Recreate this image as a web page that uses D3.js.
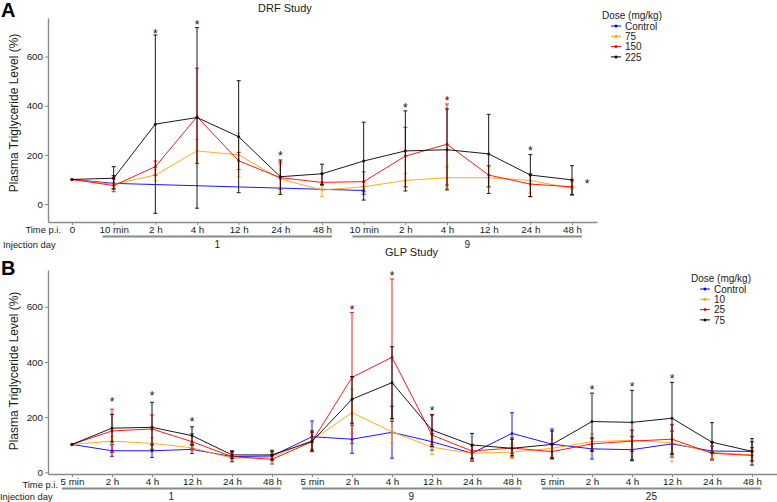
<!DOCTYPE html>
<html><head><meta charset="utf-8">
<script src="https://cdn.jsdelivr.net/npm/d3@7/dist/d3.min.js"></script>
<style>
html,body{margin:0;padding:0;background:#fff;}
svg{display:block;font-family:"Liberation Sans",Arial,sans-serif;}
</style></head>
<body><svg id="chart" width="777" height="502"></svg>
<script>
// ---------- Panel A (DRF Study) ----------
const timeLabelsA = ["0","10 min","2 h","4 h","12 h","24 h","48 h","10 min","2 h","4 h","12 h","24 h","48 h"];
const dayGroupsA = [{label:"1", from:1, to:6},{label:"9", from:7, to:12}];
const seriesNamesA = ["Control","75","150","225"];
const controlA    = [100, 84, null, null, null, null, null, 55, null, null, null, null, null];
const controlA_lo = [100, 60, null, null, null, null, null, 40, null, null, null, null, null];
const controlA_hi = [100,116, null, null, null, null, null, 72, null, null, null, null, null];
const dose75A     = [100, 80, 118, 216, 200, 102, 57, 70, 96, 107, 107, 96, 64];
const dose75A_lo  = [100, 58,  95, 166, 110,  48, 30, 50, 70,  64,  70, 44, 40];
const dose75A_hi  = [100,100, 140, 263, 288, 162, 80, 90,125, 152, 152,125, 90];
const dose150A    = [100, 75, 152, 355, 176, 107, 88, 91,195, 243, 118, 81, 70];
const dose150A_lo = [100, 50, 118, 165, 140,  60, 75, 50, 70,  77,  70, 30, 37];
const dose150A_hi = [100,110, 175, 553, 210, 170,125,131,312, 407, 156,122, 98];
const dose225A    = [100,105, 325, 352, 274, 111,123,175,216, 221, 204,118, 98];
const dose225A_lo = [100, 62, -38, -17,  46,  39, 80, 16, 53,  57,  43, 30, 37];
const dose225A_hi = [100,152, 688, 718, 502, 179,162,333,379, 387, 365,201,156];
const starIndexA  = [2, 3, 5, 8, 9, 11, 12.36];
const starValueA  = [702, 740, 204, 400, 430, 225, 90];
const yTicksA = [0, 200, 400, 600];

// ---------- Panel B (GLP Study) ----------
const timeLabelsB = ["5 min","2 h","4 h","12 h","24 h","48 h","5 min","2 h","4 h","12 h","24 h","48 h","5 min","2 h","4 h","12 h","24 h","48 h"];
const dayGroupsB = [{label:"1", from:0, to:5},{label:"9", from:6, to:11},{label:"25", from:12, to:17}];
const seriesNamesB = ["Control","10","25","75"];
const controlB    = [101, 78, 78, 83, 57, 59, 129,120,145,111, 69,141, 102, 85, 82,103, 77, 76];
const controlB_lo = [101, 58, 54, 68, 38, 45,  75, 69, 51, 80, 40, 69,  48, 48, 45, 55, 45, 41];
const controlB_hi = [101,100,100, 97, 75, 75, 186,171,240,140,100,216, 157,122,130,150,110,111];
const dose10B     = [101,113,105, 89, 51, 54, 117,216,147, 91, 69, 73,  87,111,116,107, 72, 63];
const dose10B_lo  = [101, 95, 85, 75, 38, 40,  85,141,107, 65, 45, 50,  55, 80, 75, 38, 50, 45];
const dose10B_hi  = [101,130,125,105, 65, 70, 140,302,190,120, 95,100, 120,141,153,170, 95, 85];
const dose25B     = [101,150,157,111, 57, 47, 111,344,417,135, 77, 88,  75,103,113,120, 69, 61];
const dose25B_lo  = [101, 72, 99, 85, 40, 30,  75,105,184,100, 45, 55,  50, 77, 75, 69, 45, 40];
const dose25B_hi  = [101,229,208,140, 72, 65, 145,579,701,210,100,125, 105,125,153,174, 95, 90];
const dose75B     = [101,160,163,133, 63, 63, 112,265,325,153, 99, 87, 101,184,181,196,109, 76];
const dose75B_lo  = [101,110, 81,100, 50, 45,  80,178,195, 93, 51, 60,  52, 77, 42, 64, 71, 26];
const dose75B_hi  = [101,210,254,165, 78, 80, 150,347,455,208,141,120, 150,287,297,326,180,122];
const starIndexB  = [1, 2, 3, 7, 8, 9, 13, 14, 15];
const starValueB  = [265, 287, 193, 597, 721, 230, 306, 319, 349];
const yTicksB = [0, 200, 400, 600];

const seriesColors = ["#0000FF", "#FFA500", "#FF0000", "#000000"];

// ---------- drawing ----------
const svg = d3.select("#chart");
const FONT = '"Liberation Sans", Arial, sans-serif';

function drawPanel(cfg) {
  const g = svg.append("g");
  const x = d3.scaleLinear().domain(cfg.xDomain).range([cfg.left, cfg.right]);
  const y = d3.scaleLinear().domain(cfg.yDomain).range([cfg.bottom, cfg.top]);

  // axes
  const yAxis = d3.axisLeft(y).tickValues(cfg.yTicks).tickSize(3).tickSizeOuter(0).tickPadding(2);
  const ya = g.append("g").attr("transform", `translate(${cfg.left},0)`).call(yAxis);
  const xAxis = d3.axisBottom(x).tickValues(d3.range(cfg.labels.length))
      .tickFormat(i => cfg.labels[i]).tickSize(3).tickSizeOuter(0).tickPadding(1);
  const xa = g.append("g").attr("transform", `translate(0,${cfg.bottom})`).call(xAxis);
  [ya, xa].forEach(a => {
    a.select(".domain").attr("stroke", "#8a8a8a").attr("stroke-width", 1.4);
    a.selectAll(".tick line").attr("stroke", "#8a8a8a").attr("stroke-width", 1);
    a.selectAll(".tick text").attr("fill", "#1a1a1a").style("font-size", "9.8px").style("font-family", FONT);
  });

  // y label
  g.append("text")
    .attr("transform", `translate(${cfg.yLabelX},${cfg.yLabelY}) rotate(-90)`)
    .attr("text-anchor", "middle").style("font-size", "12px").attr("fill", "#1a1a1a")
    .text("Plasma Triglyceride Level (%)");

  // series
  cfg.series.forEach((s, k) => {
    const col = seriesColors[k];
    const pts = s.mean.map((v, i) => ({i, v, lo: s.lo[i], hi: s.hi[i]})).filter(d => d.v != null);
    const sg = g.append("g").attr("opacity", 0.9);
    sg.append("path").datum(pts)
      .attr("fill", "none").attr("stroke", col).attr("stroke-width", 1)
      .attr("d", d3.line().x(d => x(d.i)).y(d => y(d.v)));
    const eb = sg.selectAll(".eb").data(pts.filter(d => d.hi !== d.lo)).enter().append("g");
    eb.append("line").attr("x1", d => x(d.i)).attr("x2", d => x(d.i))
      .attr("y1", d => y(d.lo)).attr("y2", d => y(d.hi)).attr("stroke", col).attr("stroke-width", 1);
    eb.append("line").attr("x1", d => x(d.i) - 2).attr("x2", d => x(d.i) + 2)
      .attr("y1", d => y(d.lo)).attr("y2", d => y(d.lo)).attr("stroke", col).attr("stroke-width", 1);
    eb.append("line").attr("x1", d => x(d.i) - 2).attr("x2", d => x(d.i) + 2)
      .attr("y1", d => y(d.hi)).attr("y2", d => y(d.hi)).attr("stroke", col).attr("stroke-width", 1);
    sg.selectAll(".pt").data(pts).enter().append("circle")
      .attr("cx", d => x(d.i)).attr("cy", d => y(d.v)).attr("r", 1.5).attr("fill", col);
  });

  // asterisks
  g.selectAll(".star").data(cfg.starIndex.map((v, k) => ({i: v, v: cfg.starValue[k]}))).enter()
    .append("text").attr("x", d => x(d.i)).attr("y", d => y(d.v)).attr("dy", "0.55em")
    .attr("text-anchor", "middle").style("font-size", "12px").attr("fill", "#111").text("*");

  // "Time p.i." and injection day rows
  g.append("text").attr("x", cfg.timeLabelX).attr("y", cfg.bottom + cfg.timeLabelDy).attr("text-anchor", "end")
    .style("font-size", "9.4px").attr("fill", "#1a1a1a").text("Time p.i.");
  g.append("text").attr("x", cfg.injX).attr("y", cfg.bottom + 25.5).attr("text-anchor", "start")
    .style("font-size", "9.4px").attr("fill", "#1a1a1a").text("Injection day");
  cfg.days.forEach(dg => {
    const x1 = x(dg.from - cfg.barPad[0]), x2 = x(dg.to + cfg.barPad[1]);
    g.append("line").attr("x1", x1).attr("x2", x2).attr("y1", cfg.bottom + 14.5).attr("y2", cfg.bottom + 14.5)
      .attr("stroke", "#8a8a8a").attr("stroke-width", 2);
    g.append("text").attr("x", (x1 + x2) / 2).attr("y", cfg.bottom + 25.5).attr("text-anchor", "middle")
      .style("font-size", "10px").attr("fill", "#1a1a1a").text(dg.label);
  });

  // title
  g.append("text").attr("x", cfg.titleX).attr("y", cfg.titleY).style("font-size", "11px")
    .attr("fill", "#1a1a1a").text(cfg.title);
  // panel letter
  g.append("text").attr("x", 1).attr("y", cfg.letterY).style("font-size", "20px").style("font-weight", "bold")
    .attr("fill", "#000").text(cfg.letter);

  // legend
  const lg = g.append("g").attr("transform", `translate(${cfg.legX},${cfg.legY})`);
  lg.append("text").attr("x", 0).attr("y", 3.5).style("font-size", "10px").attr("fill", "#1a1a1a").text("Dose (mg/kg)");
  cfg.names.forEach((nm, k) => {
    const yy = 11 + k * 10.3;
    lg.append("line").attr("x1", 9).attr("x2", 19).attr("y1", yy).attr("y2", yy)
      .attr("stroke", seriesColors[k]).attr("stroke-width", 1);
    lg.append("circle").attr("cx", 14).attr("cy", yy).attr("r", 1.5).attr("fill", seriesColors[k]);
    lg.append("text").attr("x", 23).attr("y", yy + 3.6).style("font-size", "10px").attr("fill", "#1a1a1a").text(nm);
  });
}

drawPanel({
  letter: "A", letterY: 17, title: "DRF Study", titleX: 258, titleY: 12,
  left: 48, right: 597, top: 18, bottom: 222,
  xDomain: [-0.576, 12.6], yDomain: [-73.2, 757],
  yTicks: yTicksA, labels: timeLabelsA, days: dayGroupsA, barPad: [0.27, 0.24],
  names: seriesNamesA,
  series: [
    {mean: controlA, lo: controlA_lo, hi: controlA_hi},
    {mean: dose75A, lo: dose75A_lo, hi: dose75A_hi},
    {mean: dose150A, lo: dose150A_lo, hi: dose150A_hi},
    {mean: dose225A, lo: dose225A_lo, hi: dose225A_hi}
  ],
  starIndex: starIndexA, starValue: starValueA,
  yLabelX: 18, yLabelY: 113, timeLabelX: 61, timeLabelDy: 11, injX: 3,
  legX: 602, legY: 15
});

drawPanel({
  letter: "B", letterY: 275, title: "GLP Study", titleX: 385, titleY: 256,
  left: 48, right: 777, top: 270, bottom: 474,
  xDomain: [-0.6, 17.625], yDomain: [-6.2, 733.5],
  yTicks: yTicksB, labels: timeLabelsB, days: dayGroupsB, barPad: [0.25, 0.22],
  names: seriesNamesB,
  series: [
    {mean: controlB, lo: controlB_lo, hi: controlB_hi},
    {mean: dose10B, lo: dose10B_lo, hi: dose10B_hi},
    {mean: dose25B, lo: dose25B_lo, hi: dose25B_hi},
    {mean: dose75B, lo: dose75B_lo, hi: dose75B_hi}
  ],
  starIndex: starIndexB, starValue: starValueB,
  yLabelX: 18, yLabelY: 371, timeLabelX: 58, timeLabelDy: 13.5, injX: 0,
  legX: 691, legY: 278
});
</script></body></html>
